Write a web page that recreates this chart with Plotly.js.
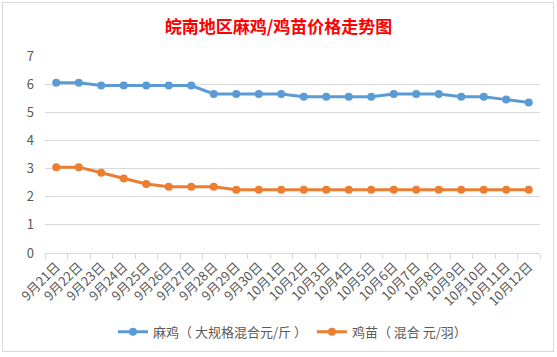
<!DOCTYPE html>
<html>
<head>
<meta charset="utf-8">
<script src="https://cdn.plot.ly/plotly-3.0.1.min.js"></script>
<style>
html,body{margin:0;padding:0;background:#fff;}
#chart{position:absolute;left:0;top:0;width:557px;height:357px;}
#frame{position:absolute;left:2px;top:2px;width:550px;height:348px;border:1px solid #d9d9d9;pointer-events:none;}
</style>
</head>
<body>
<div id="chart"></div>
<div id="frame"></div>
<script>
const dates = ["9月21日","9月22日","9月23日","9月24日","9月25日","9月26日","9月27日","9月28日","9月29日","9月30日","10月1日","10月2日","10月3日","10月4日","10月5日","10月6日","10月7日","10月8日","10月9日","10月10日","10月11日","10月12日"];
const maji = [6.05,6.05,5.95,5.95,5.95,5.95,5.95,5.65,5.65,5.65,5.65,5.55,5.55,5.55,5.55,5.65,5.65,5.65,5.55,5.55,5.45,5.35];
const jimiao = [3.05,3.05,2.85,2.65,2.45,2.35,2.35,2.35,2.25,2.25,2.25,2.25,2.25,2.25,2.25,2.25,2.25,2.25,2.25,2.25,2.25,2.25];
const seriesNames = ["麻鸡（ 大规格混合元/斤 ）","鸡苗（ 混合 元/羽）"];

const font = "'Noto Sans CJK SC', 'Noto Sans', sans-serif";
const traces = [
  {x: dates, y: maji, name: seriesNames[0], type: "scatter", mode: "lines+markers",
   line: {color: "#5b9bd5", width: 3}, marker: {color: "#5b9bd5", size: 8}},
  {x: dates, y: jimiao, name: seriesNames[1], type: "scatter", mode: "lines+markers",
   line: {color: "#ed7d31", width: 3}, marker: {color: "#ed7d31", size: 8}}
];
const layout = {
  width: 557, height: 357,
  margin: {l: 45, r: 17, t: 56, b: 104, autoexpand: false},
  paper_bgcolor: "#fff", plot_bgcolor: "#fff",
  font: {family: font, size: 12, color: "#595959"},
  title: {text: "<b>皖南地区麻鸡/鸡苗价格走势图</b>", x: 0.5, xanchor: "center", y: 0.925, yanchor: "middle",
          font: {family: font, size: 17, color: "#ff0000"}},
  xaxis: {type: "category", range: [-0.5, dates.length - 0.5], automargin: false, showgrid: false,
          showline: true, linecolor: "#d9d9d9", linewidth: 1,
          ticks: "outside", tickson: "boundaries", ticklen: 5, tickcolor: "#d9d9d9",
          tickangle: -45, tickfont: {family: font, size: 13, color: "#595959"}, fixedrange: true},
  yaxis: {range: [0, 7], automargin: false, dtick: 1, showgrid: true, gridcolor: "#d9d9d9", gridwidth: 1,
          zeroline: false, showline: false, ticks: "", ticklabelstandoff: 10,
          tickfont: {family: font, size: 13, color: "#595959"}, fixedrange: true},
  showlegend: true,
  legend: {orientation: "h", x: 0.5, xanchor: "center", y: -0.4, yanchor: "middle",
           font: {family: font, size: 13, color: "#595959"}, itemwidth: 30}
};
Plotly.newPlot("chart", traces, layout, {displayModeBar: false, staticPlot: true});
</script>
</body>
</html>
